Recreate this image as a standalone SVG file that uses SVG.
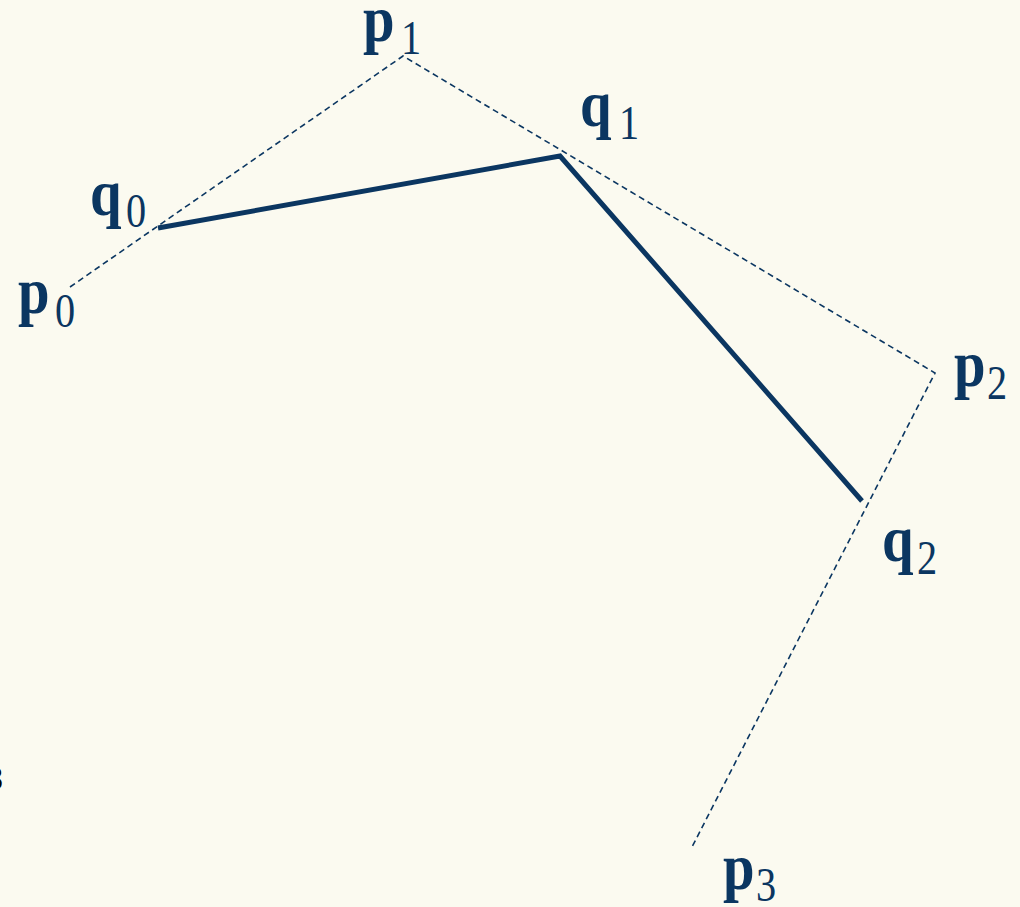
<svg xmlns="http://www.w3.org/2000/svg" width="1020" height="907" viewBox="0 0 1020 907">
  <style>
    .lbl { font-family: "Liberation Serif", "Times New Roman", serif; fill: #0b3661; }
    .main { font-size: 66px; font-weight: bold; }
    .sub { font-size: 48px; }
    .dash { fill: none; stroke: #0b3661; stroke-width: 1.6; stroke-dasharray: 6 4; }
    .thick { fill: none; stroke: #0b3661; stroke-width: 5; stroke-linejoin: miter; }
  </style>
  <rect x="0" y="0" width="1020" height="907" fill="#fbfaf0"/>
  <g id="connectors">
    <polyline class="dash" points="70,287 403,56 935,373 692,847"/>
    <polyline class="thick" points="158,228 560,156 862,501"/>
  </g>
  <g id="p0"><text class="lbl main" transform="translate(18,313) scale(0.86,1)">p</text><text class="lbl sub" transform="translate(55,327) scale(0.84,1)">0</text></g>
  <g id="q0"><text class="lbl main" transform="translate(90,215) scale(0.86,1)">q</text><text class="lbl sub" transform="translate(126,227) scale(0.84,1)">0</text></g>
  <g id="p1"><text class="lbl main" transform="translate(363,41) scale(0.86,1)">p</text><text class="lbl sub" transform="translate(401,54) scale(0.84,1)">1</text></g>
  <g id="q1"><text class="lbl main" transform="translate(580,126) scale(0.86,1)">q</text><text class="lbl sub" transform="translate(619,139) scale(0.84,1)">1</text></g>
  <g id="p2"><text class="lbl main" transform="translate(954,386) scale(0.86,1)">p</text><text class="lbl sub" transform="translate(987,399) scale(0.84,1)">2</text></g>
  <g id="q2"><text class="lbl main" transform="translate(882,561) scale(0.86,1)">q</text><text class="lbl sub" transform="translate(917,574) scale(0.84,1)">2</text></g>
  <g id="p3"><text class="lbl main" transform="translate(723,889) scale(0.86,1)">p</text><text class="lbl sub" transform="translate(756,901) scale(0.84,1)">3</text></g>
  <text x="-16" y="790" font-family="Liberation Sans, Arial, sans-serif" font-size="34" font-weight="bold" fill="#000">3</text>
</svg>
